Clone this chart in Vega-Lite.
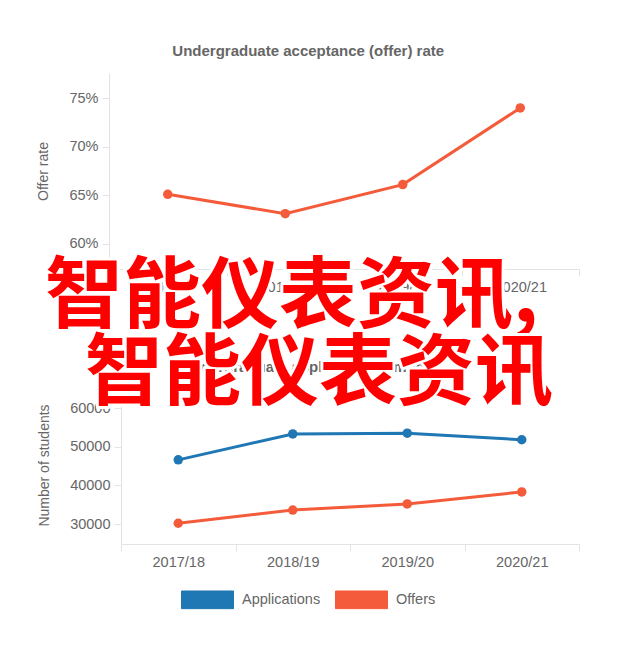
{
  "$schema": "https://vega.github.io/schema/vega-lite/v6.json",
  "background": "white",
  "padding": {"left": 36, "top": 44, "right": 5, "bottom": 5},
  "spacing": -34,
  "align": "none",
  "config": {
    "font": "Liberation Sans",
    "view": {"stroke": null},
    "axis": {"labelColor": "#666666", "titleColor": "#666666", "domainColor": "#e3e3e3", "tickColor": "#e3e3e3", "labelFontSize": 14.5, "titleFontSize": 14, "titleFontWeight": "normal", "grid": false, "tickSize": 7, "labelPadding": 4, "titlePadding": 18},
    "title": {"fontSize": 15, "color": "#666666", "fontWeight": "bold", "frame": "bounds", "offset": 14},
    "legend": {"labelFontSize": 14.5, "labelColor": "#666666", "columnPadding": 12, "labelOffset": 8}
  },
  "datasets": {
    "rate": [
      {"year": "2017/18", "rate": 65.1},
      {"year": "2018/19", "rate": 63.1},
      {"year": "2019/20", "rate": 66.1},
      {"year": "2020/21", "rate": 74.0}
    ],
    "numbers": [
      {"year": "2017/18", "series": "Applications", "students": 46600},
      {"year": "2018/19", "series": "Applications", "students": 53300},
      {"year": "2019/20", "series": "Applications", "students": 53500},
      {"year": "2020/21", "series": "Applications", "students": 51800},
      {"year": "2017/18", "series": "Offers", "students": 30200},
      {"year": "2018/19", "series": "Offers", "students": 33600},
      {"year": "2019/20", "series": "Offers", "students": 35200},
      {"year": "2020/21", "series": "Offers", "students": 38300}
    ],
    "overlay": [
      {"line": 1, "label": "智能仪表资讯,"},
      {"line": 2, "label": "智能仪表资讯"}
    ]
  },
  "vconcat": [
    {
      "title": "Undergraduate acceptance (offer) rate",
      "width": 470,
      "height": 196,
      "data": {"name": "rate"},
      "mark": {"type": "line", "color": "#f45b3a", "strokeWidth": 3, "point": {"filled": true, "size": 90, "color": "#f45b3a"}},
      "encoding": {
        "x": {"field": "year", "type": "ordinal", "scale": {"type": "band", "paddingInner": 0, "paddingOuter": 0}, "axis": {"title": null, "labelAngle": 0, "tickBand": "extent"}},
        "y": {"field": "rate", "type": "quantitative", "scale": {"domain": [57.4, 77.6], "nice": false, "zero": false}, "axis": {"title": "Offer rate", "values": [60, 65, 70, 75], "labelExpr": "datum.value + '%'"}}
      }
    },
    {
      "width": 470,
      "height": 158,
      "resolve": {"axis": {"x": "independent"}},
      "layer": [
        {
          "data": {"name": "numbers"},
          "mark": {"type": "line", "strokeWidth": 3, "point": {"filled": true, "size": 90}},
          "encoding": {
            "x": {"field": "year", "type": "ordinal", "scale": {"type": "band", "paddingInner": 0, "paddingOuter": 0, "range": [12, 470]}, "axis": {"title": null, "orient": "bottom", "labelAngle": 0, "tickBand": "extent"}},
            "y": {"field": "students", "type": "quantitative", "scale": {"domain": [24830, 65700], "nice": false, "zero": false}, "axis": {"title": "Number of students", "values": [30000, 40000, 50000, 60000], "format": "d", "offset": -12}},
            "color": {"field": "series", "type": "nominal", "scale": {"domain": ["Applications", "Offers"], "range": ["#1f77b4", "#f45b3a"]}, "legend": {"title": null, "orient": "none", "direction": "horizontal", "legendX": 72, "legendY": 500, "symbolType": "M-1,-0.34H1V0.34H-1Z", "symbolSize": 2704, "encode": {"symbols": {"update": {"fill": {"scale": "color", "field": "value"}, "stroke": {"scale": "color", "field": "value"}, "strokeWidth": {"value": 1}, "opacity": {"value": 1}}}}}}
          }
        },
        {
          "data": {"name": "overlay"},
          "transform": [{"filter": "datum.line == 1"}],
          "mark": {"type": "text", "font": "Noto Sans CJK SC", "fontSize": 78, "fontWeight": "bold", "align": "left", "baseline": "middle", "dx": -76, "fill": "white", "stroke": "white", "strokeWidth": 6, "strokeJoin": "round"},
          "encoding": {"text": {"field": "label"}, "x": {"datum": "2017/18", "bandPosition": 0, "axis": {"orient": "top", "title": "Undergraduate application numbers", "titleFontSize": 15, "titleFontWeight": "bold", "titleColor": "#666666", "titlePadding": 12, "titleX": 200, "titleAnchor": "middle", "labels": false, "ticks": false, "domain": false}}, "y": {"datum": 88200}}
        },
        {
          "data": {"name": "overlay"},
          "transform": [{"filter": "datum.line == 1"}],
          "mark": {"type": "text", "font": "Noto Sans CJK SC", "fontSize": 78, "fontWeight": "bold", "align": "left", "baseline": "middle", "dx": -76, "fill": "#ff0000"},
          "encoding": {"text": {"field": "label"}, "x": {"datum": "2017/18", "bandPosition": 0, "axis": null}, "y": {"datum": 88200}}
        },
        {
          "data": {"name": "overlay"},
          "transform": [{"filter": "datum.line == 2"}],
          "mark": {"type": "text", "font": "Noto Sans CJK SC", "fontSize": 78, "fontWeight": "bold", "align": "left", "baseline": "middle", "dx": -36, "fill": "white", "stroke": "white", "strokeWidth": 6, "strokeJoin": "round"},
          "encoding": {"text": {"field": "label"}, "x": {"datum": "2017/18", "bandPosition": 0, "axis": null}, "y": {"datum": 68160}}
        },
        {
          "data": {"name": "overlay"},
          "transform": [{"filter": "datum.line == 2"}],
          "mark": {"type": "text", "font": "Noto Sans CJK SC", "fontSize": 78, "fontWeight": "bold", "align": "left", "baseline": "middle", "dx": -36, "fill": "#ff0000"},
          "encoding": {"text": {"field": "label"}, "x": {"datum": "2017/18", "bandPosition": 0, "axis": null}, "y": {"datum": 68160}}
        }
      ]
    }
  ]
}
